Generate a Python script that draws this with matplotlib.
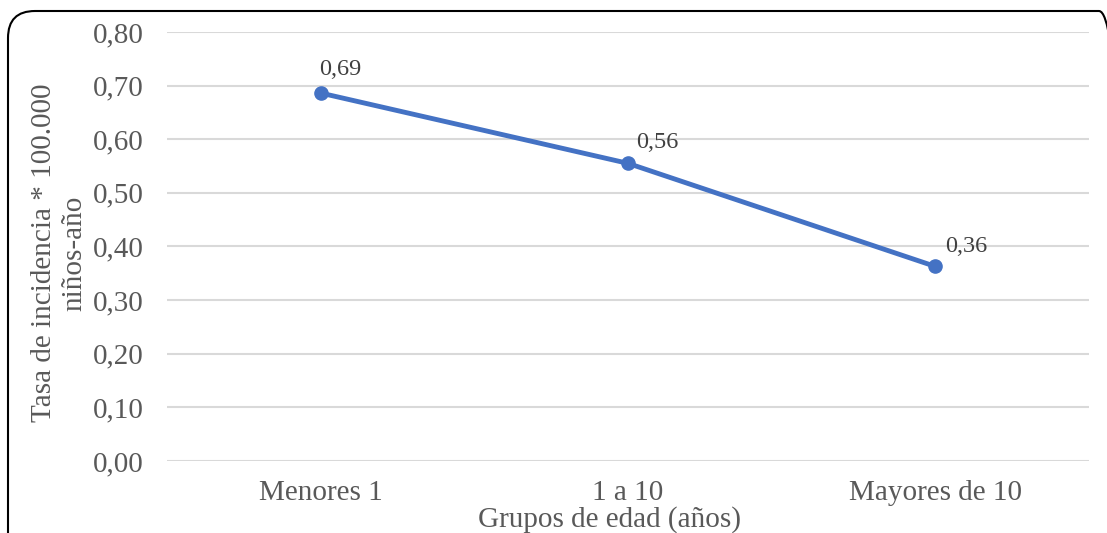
import matplotlib
matplotlib.use('Agg')
import matplotlib.pyplot as plt
from matplotlib.patches import FancyBboxPatch
from matplotlib.ticker import FuncFormatter

# datos
grupos = ["Menores 1", "1 a 10", "Mayores de 10"]
tasas = [0.686, 0.555, 0.363]
etiquetas = ["0,69", "0,56", "0,36"]

plt.rcParams['font.family'] = ['Liberation Serif', 'DejaVu Serif']
gris = '#595959'

fig = plt.figure(figsize=(11.07, 5.33), dpi=100)
ax = fig.add_axes([0.1513, 0.1351, 0.832, 0.8049])

x = list(range(len(grupos)))
ax.plot(x, tasas, color='#4472C4', linewidth=3.5, marker='o', markersize=9.5, zorder=3)

# desplazamiento de las etiquetas de datos (puntos)
desplaz = [(-1, 17), (6, 15), (7, 14)]
for xi, yi, txt, off in zip(x, tasas, etiquetas, desplaz):
    ax.annotate(txt, (xi, yi), xytext=off, textcoords='offset points',
                ha='left', va='center', fontsize=17.5, color='#404040')

ax.set_xlim(-0.5, len(grupos) - 0.5)
ax.set_ylim(0, 0.80)
ax.set_yticks([i / 10 for i in range(9)])
ax.yaxis.set_major_formatter(FuncFormatter(lambda v, p: f"{v:.2f}".replace('.', ',')))
ax.set_xticks(x)
ax.set_xticklabels(grupos)

ax.grid(axis='y', color='#D9D9D9', linewidth=1.5)
ax.set_axisbelow(True)
for s in ax.spines.values():
    s.set_visible(False)
ax.tick_params(axis='both', length=0, labelsize=21, labelcolor=gris)
ax.tick_params(axis='y', pad=17)
ax.tick_params(axis='x', pad=14)

fig.text(59 / 1107, 1 - 253 / 533, "Tasa de incidencia * 100.000\nniños-año",
         rotation=90, ha='center', va='center', multialignment='center',
         fontsize=21, color=gris, linespacing=1.2)
fig.text(610 / 1107, 1 - 520 / 533, "Grupos de edad (años)",
         ha='center', va='center', fontsize=21, color=gris)

# marco redondeado del grafico
marco = FancyBboxPatch((0.08, -0.5), 11.18, 5.72,
                       boxstyle="round,pad=0,rounding_size=0.27",
                       transform=fig.dpi_scale_trans, fill=False,
                       edgecolor='black', linewidth=1.5, clip_on=False)
fig.patches.append(marco)

fig.savefig('out.png', dpi=100)
plt.close(fig)
